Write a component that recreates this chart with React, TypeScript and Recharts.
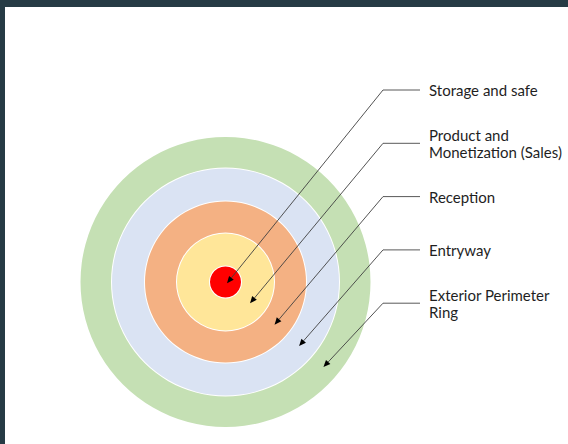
import React from 'react'
import { PieChart, Pie, Cell } from 'recharts'

// zones from the core outwards
const ZONES = ['Storage and safe', 'Product and Monetization (Sales)', 'Reception', 'Entryway', 'Exterior Perimeter Ring']
const LABEL_LINES = [
  ['Storage and safe'],
  ['Product and', 'Monetization (Sales)'],
  ['Reception'],
  ['Entryway'],
  ['Exterior Perimeter', 'Ring'],
]
const ZONE_SHARE = [1, 1, 1, 1, 1]

const COLORS = ['#ff0000', '#ffe699', '#f4b183', '#dae3f3', '#c5e0b4']
// ring radii, with a thin white gap between rings
const RADII = [
  [0, 15.5],
  [16.5, 48.5],
  [49.5, 80.5],
  [81.5, 113.5],
  [114.5, 145],
]

const W = 563
const H = 437
const CX = 220.5
const CY = 275
const ELBOW_X = 378
const LINE_END_X = 415
const TEXT_X = 424
const FIRST_Y = 83
const STEP_Y = 53.3
const ARROW_ANGLE = (-41 * Math.PI) / 180

function callout(props: any, i: number) {
  const { cx, cy, innerRadius, outerRadius } = props
  const r = i === 0 ? 2 : (innerRadius + outerRadius) / 2
  const tx = cx + r * Math.cos(ARROW_ANGLE)
  const ty = cy - r * Math.sin(ARROW_ANGLE)
  const ey = FIRST_Y + i * STEP_Y
  const dx = tx - ELBOW_X
  const dy = ty - ey
  const len = Math.sqrt(dx * dx + dy * dy)
  const ux = dx / len
  const uy = dy / len
  const ah = 7
  const aw = 3
  const bx = tx - ux * ah
  const by = ty - uy * ah
  const lines = LABEL_LINES[i]
  const lh = 16.7
  const y0 = ey - ((lines.length - 1) * lh) / 2
  return (
    <g key={`callout-${i}`}>
      <line x1={ELBOW_X} y1={ey} x2={LINE_END_X} y2={ey} stroke="#595959" strokeWidth={1} />
      <line x1={ELBOW_X} y1={ey} x2={bx} y2={by} stroke="#404040" strokeWidth={0.9} />
      <polygon
        points={`${tx},${ty} ${bx - uy * aw},${by + ux * aw} ${bx + uy * aw},${by - ux * aw}`}
        fill="#000"
      />
      <text x={TEXT_X} fill="#1f1f1f" fontSize={15} fontFamily="Lato, 'Open Sans', sans-serif">
        {lines.map((t, k) => (
          <tspan key={k} x={TEXT_X} y={y0 + k * lh} dominantBaseline="central">
            {t}
          </tspan>
        ))}
      </text>
    </g>
  )
}

export default function App() {
  const order = [4, 3, 2, 1, 0]
  return (
    <div
      style={{
        position: 'fixed',
        left: 0,
        top: 0,
        width: 568,
        height: 444,
        background: '#263b45',
        paddingTop: 7,
        paddingLeft: 5,
        boxSizing: 'border-box',
      }}
    >
      <div style={{ width: W, height: H, background: '#fff' }}>
        <PieChart width={W} height={H} margin={{ top: 0, right: 0, bottom: 0, left: 0 }}>
          {order.map((i) => (
            <Pie
              key={ZONES[i]}
              data={[{ name: ZONES[i], value: ZONE_SHARE[i] }]}
              dataKey="value"
              cx={CX}
              cy={CY}
              innerRadius={RADII[i][0]}
              outerRadius={RADII[i][1]}
              startAngle={90}
              endAngle={450}
              stroke="none"
              isAnimationActive={false}
              labelLine={false}
              label={(p: any) => callout(p, i)}
            >
              <Cell fill={COLORS[i]} stroke="none" />
            </Pie>
          ))}
        </PieChart>
      </div>
    </div>
  )
}
